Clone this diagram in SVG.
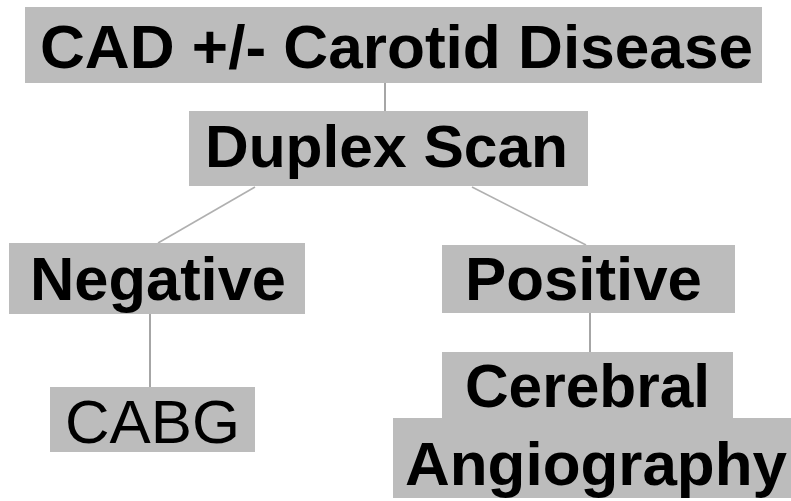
<svg xmlns="http://www.w3.org/2000/svg" width="791" height="501" viewBox="0 0 791 501">
  <style>
    .box { fill: #bcbcbc; }
    .t { font-family: "Liberation Sans", Arial, sans-serif; font-weight: bold; fill: #000; }
    .tn { font-family: "Liberation Sans", Arial, sans-serif; font-weight: normal; fill: #000; }
    .v { stroke: #a6a6a6; stroke-width: 2; fill: none; }
    .d { stroke: #b0b0b0; stroke-width: 1.6; fill: none; }
  </style>
  <rect width="791" height="501" fill="#ffffff"/>
  <g id="connectors">
    <line class="v" x1="385" y1="83" x2="385" y2="111"/>
    <line class="d" x1="255" y1="187" x2="158" y2="243"/>
    <line class="d" x1="472" y1="187" x2="586" y2="245"/>
    <line class="v" x1="150" y1="314" x2="150" y2="387"/>
    <line class="v" x1="590" y1="313" x2="590" y2="352"/>
  </g>
  <g id="node-cad">
    <rect class="box" x="25" y="7" width="737" height="76"/>
    <text class="t" x="40" y="68" font-size="62" textLength="713" lengthAdjust="spacingAndGlyphs">CAD +/- Carotid Disease</text>
  </g>
  <g id="node-duplex">
    <rect class="box" x="189" y="111" width="399" height="75"/>
    <text class="t" x="205" y="167" font-size="59" textLength="363" lengthAdjust="spacingAndGlyphs">Duplex Scan</text>
  </g>
  <g id="node-negative">
    <rect class="box" x="9" y="243" width="296" height="71"/>
    <text class="t" x="30" y="300" font-size="62" textLength="256" lengthAdjust="spacingAndGlyphs">Negative</text>
  </g>
  <g id="node-positive">
    <rect class="box" x="442" y="245" width="293" height="68"/>
    <text class="t" x="465" y="300" font-size="62" textLength="237" lengthAdjust="spacingAndGlyphs">Positive</text>
  </g>
  <g id="node-cabg">
    <rect class="box" x="50" y="387" width="205" height="65"/>
    <text class="tn" x="65" y="443" font-size="62" textLength="175" lengthAdjust="spacingAndGlyphs">CABG</text>
  </g>
  <g id="node-angiography">
    <rect class="box" x="442" y="352" width="291" height="70"/>
    <rect class="box" x="393" y="418" width="398" height="80"/>
    <text class="t" x="465" y="407" font-size="61" textLength="245" lengthAdjust="spacingAndGlyphs">Cerebral</text>
    <text class="t" x="405" y="485" font-size="62" textLength="382" lengthAdjust="spacingAndGlyphs">Angiography</text>
  </g>
</svg>
